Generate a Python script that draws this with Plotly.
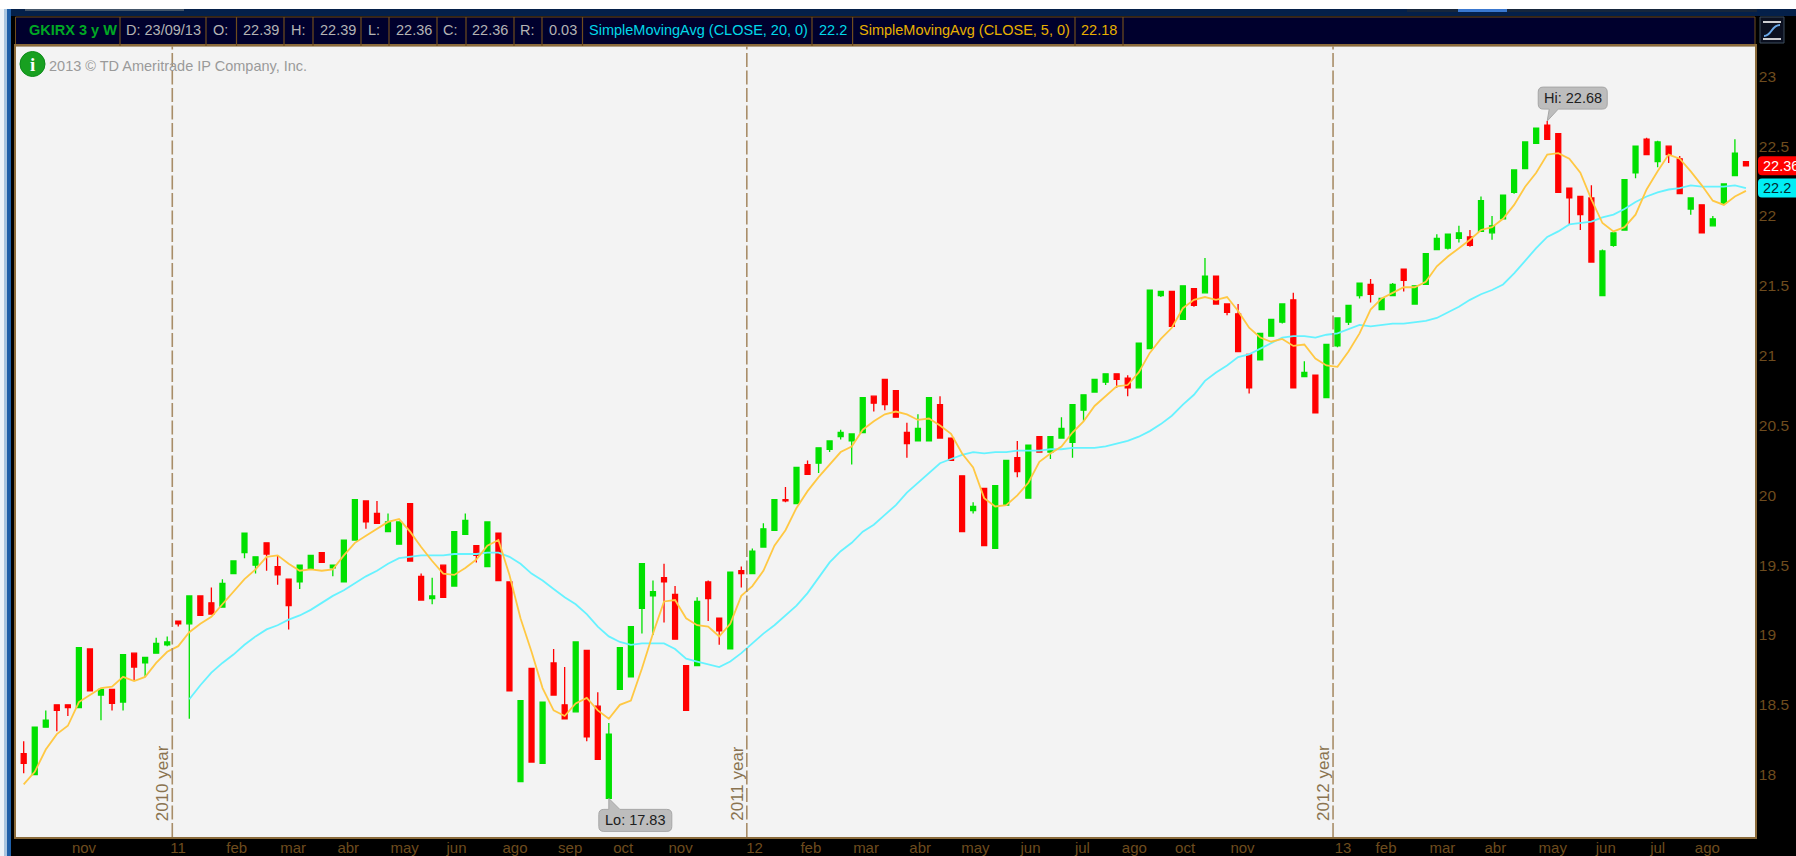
import pandas as pd
import plotly.graph_objects as go

# ---------- data ----------
last_bar = "2013-09-23"
bar_count = 157

opens = [
18.15,18.00,18.34,18.50,18.50,18.48,18.90,18.57,18.61,18.52,
18.87,18.80,18.87,18.93,19.10,19.08,19.28,19.23,19.20,19.44,
19.59,19.50,19.66,19.49,19.40,19.38,19.47,19.59,19.48,19.38,
19.68,19.96,19.87,19.74,19.65,19.94,19.42,19.26,19.50,19.35,
19.72,19.64,19.49,19.73,19.38,17.95,18.76,18.08,18.80,18.50,
18.45,18.89,18.49,17.83,18.61,18.70,19.19,19.28,19.41,19.29,
18.78,18.78,19.38,19.12,18.90,19.46,19.44,19.63,19.75,19.97,
19.94,20.22,20.23,20.33,20.42,20.39,20.45,20.71,20.83,20.75,
20.45,20.39,20.39,20.65,20.41,20.14,19.89,20.05,19.62,19.93,
20.27,19.98,20.42,20.31,20.41,20.38,20.61,20.74,20.81,20.87,
20.84,20.77,21.05,21.43,21.46,21.26,21.48,21.45,21.57,21.37,
21.30,21.01,20.97,21.14,21.24,21.40,20.85,20.86,20.70,21.07,
21.24,21.43,21.51,21.33,21.43,21.62,21.37,21.51,21.76,21.77,
21.84,21.85,21.89,21.88,21.98,22.17,22.34,22.52,22.65,22.59,
22.20,22.14,22.13,21.43,21.79,21.90,22.31,22.55,22.39,22.50,
22.41,22.05,22.08,21.93,22.09,22.29,22.39]

highs = [
18.24,18.34,18.46,18.50,18.50,18.91,18.90,18.61,18.61,18.86,
18.87,18.84,18.98,18.99,19.10,19.28,19.28,19.34,19.40,19.53,
19.73,19.56,19.66,19.57,19.40,19.50,19.57,19.59,19.50,19.68,
19.97,19.96,19.96,19.87,19.81,19.94,19.44,19.41,19.50,19.74,
19.87,19.64,19.81,19.73,19.38,18.53,18.76,18.52,18.90,18.77,
18.95,18.89,18.59,18.37,18.91,19.06,19.51,19.39,19.51,19.35,
18.78,19.27,19.39,19.12,19.45,19.49,19.62,19.80,19.97,20.06,
20.20,20.25,20.34,20.39,20.47,20.44,20.70,20.71,20.83,20.75,
20.52,20.58,20.70,20.71,20.41,20.14,19.95,20.05,20.07,20.25,
20.39,20.36,20.42,20.42,20.56,20.65,20.72,20.83,20.87,20.87,
20.86,21.09,21.47,21.46,21.46,21.50,21.48,21.70,21.57,21.37,
21.37,21.01,21.16,21.26,21.37,21.45,20.96,20.86,21.08,21.27,
21.36,21.52,21.55,21.41,21.52,21.62,21.50,21.73,21.87,21.87,
21.93,21.90,22.14,22.00,22.15,22.33,22.53,22.63,22.68,22.59,
22.20,22.14,22.22,21.76,21.88,22.26,22.50,22.56,22.54,22.50,
22.43,22.13,22.08,22.00,22.23,22.55,22.39]

lows = [
18.01,18.00,18.34,18.31,18.42,18.48,18.60,18.39,18.46,18.46,
18.67,18.70,18.87,18.92,19.06,18.40,19.14,19.15,19.20,19.44,
19.55,19.44,19.46,19.36,19.04,19.33,19.47,19.52,19.42,19.38,
19.68,19.76,19.80,19.74,19.65,19.53,19.25,19.22,19.27,19.35,
19.72,19.52,19.49,19.39,18.60,17.95,18.09,18.08,18.57,18.40,
18.45,18.24,18.11,17.83,18.61,18.70,19.01,19.00,19.09,18.97,
18.46,18.78,19.10,18.93,18.90,19.34,19.44,19.63,19.75,19.95,
19.94,20.15,20.16,20.31,20.40,20.22,20.45,20.60,20.61,20.56,
20.27,20.39,20.39,20.41,20.25,19.74,19.87,19.64,19.62,19.93,
20.13,19.98,20.31,20.26,20.41,20.27,20.53,20.74,20.79,20.77,
20.71,20.77,21.05,21.42,21.21,21.26,21.35,21.45,21.37,21.29,
21.03,20.73,20.97,21.14,21.23,20.77,20.85,20.59,20.70,21.06,
21.22,21.41,21.38,21.33,21.43,21.46,21.37,21.51,21.76,21.76,
21.81,21.78,21.89,21.83,21.98,22.16,22.34,22.52,22.55,22.17,
21.94,21.90,21.67,21.43,21.78,21.90,22.27,22.44,22.35,22.38,
22.16,22.01,21.88,21.93,22.09,22.29,22.36]

closes = [
18.08,18.34,18.39,18.46,18.48,18.91,18.60,18.61,18.51,18.86,
18.77,18.84,18.94,18.95,19.08,19.28,19.14,19.15,19.37,19.53,
19.73,19.56,19.58,19.43,19.21,19.50,19.57,19.52,19.50,19.68,
19.97,19.81,19.80,19.81,19.81,19.53,19.25,19.28,19.27,19.74,
19.82,19.57,19.81,19.39,18.60,18.53,18.09,18.52,18.57,18.40,
18.95,18.27,18.11,18.29,18.91,19.06,19.51,19.31,19.38,18.97,
18.46,19.24,19.26,19.03,19.45,19.44,19.60,19.76,19.97,19.96,
20.20,20.15,20.34,20.39,20.45,20.44,20.70,20.66,20.65,20.56,
20.37,20.48,20.70,20.41,20.25,19.74,19.92,19.64,20.07,20.25,
20.17,20.36,20.31,20.42,20.48,20.65,20.72,20.83,20.87,20.83,
20.77,21.09,21.47,21.46,21.21,21.50,21.36,21.57,21.37,21.31,
21.03,20.77,21.16,21.26,21.37,20.77,20.88,20.59,21.08,21.27,
21.36,21.52,21.44,21.41,21.51,21.54,21.50,21.73,21.84,21.87,
21.88,21.79,22.11,21.93,22.15,22.33,22.53,22.63,22.55,22.17,
22.13,22.01,21.67,21.75,21.88,22.26,22.50,22.44,22.53,22.44,
22.16,22.13,21.88,21.98,22.23,22.45,22.36]

sma5 = [
17.93,18.02,18.18,18.29,18.35,18.52,18.57,18.62,18.63,18.70,
18.67,18.70,18.80,18.88,18.92,19.02,19.08,19.13,19.22,19.31,
19.40,19.47,19.56,19.57,19.51,19.46,19.47,19.46,19.47,19.57,
19.66,19.71,19.76,19.81,19.83,19.74,19.63,19.53,19.44,19.43,
19.48,19.54,19.64,19.68,19.43,19.12,18.88,18.62,18.46,18.42,
18.51,18.55,18.46,18.40,18.50,18.53,18.76,19.01,19.24,19.25,
19.12,19.07,19.06,18.99,19.08,19.28,19.35,19.46,19.64,19.75,
19.91,20.03,20.13,20.22,20.31,20.35,20.47,20.53,20.58,20.60,
20.58,20.54,20.55,20.50,20.44,20.30,20.20,19.98,19.92,19.93,
20.00,20.09,20.24,20.30,20.35,20.45,20.53,20.64,20.71,20.78,
20.79,20.88,21.02,21.12,21.20,21.34,21.40,21.42,21.40,21.42,
21.32,21.20,21.13,21.10,21.12,21.07,21.08,20.98,20.93,20.92,
21.03,21.16,21.33,21.41,21.45,21.49,21.49,21.53,21.64,21.71,
21.77,21.83,21.90,21.92,21.98,22.08,22.21,22.31,22.44,22.45,
22.41,22.31,22.12,21.95,21.89,21.92,22.01,22.19,22.32,22.44,
22.41,22.32,22.22,22.11,22.08,22.14,22.18]

sma20_first_bar = 15
sma20 = [
18.54,18.64,18.73,18.80,18.86,
18.93,18.99,19.04,19.07,19.11,19.14,19.18,19.23,19.28,19.32,
19.37,19.42,19.46,19.51,19.55,19.56,19.57,19.57,19.57,19.58,
19.58,19.58,19.59,19.59,19.56,19.51,19.44,19.39,19.33,19.27,
19.22,19.15,19.06,18.99,18.95,18.93,18.94,18.94,18.94,18.90,
18.83,18.81,18.79,18.77,18.81,18.87,18.94,19.01,19.07,19.14,
19.21,19.30,19.41,19.52,19.60,19.66,19.74,19.79,19.86,19.93,
20.02,20.09,20.16,20.23,20.26,20.29,20.31,20.30,20.31,20.31,
20.32,20.32,20.32,20.33,20.33,20.34,20.34,20.34,20.35,20.37,
20.39,20.42,20.46,20.51,20.57,20.65,20.72,20.82,20.88,20.93,
20.99,21.01,21.05,21.09,21.13,21.14,21.14,21.13,21.15,21.16,
21.19,21.22,21.21,21.22,21.23,21.23,21.24,21.25,21.27,21.31,
21.35,21.40,21.44,21.47,21.51,21.59,21.68,21.77,21.85,21.89,
21.94,21.95,21.96,21.99,22.01,22.05,22.10,22.14,22.17,22.19,
22.20,22.22,22.21,22.21,22.21,22.22,22.20]

month_labels = ["nov","11","feb","mar","abr","may","jun","ago","sep","oct","nov","12",
                "feb","mar","abr","may","jun","jul","ago","oct","nov","13",
                "feb","mar","abr","may","jun","jul","ago"]
month_label_weeks = [5.46,13.98,19.3,24.4,29.4,34.5,39.2,44.5,49.5,54.3,59.5,66.2,
                     71.3,76.3,81.2,86.2,91.2,95.9,100.6,105.2,110.4,119.5,
                     123.4,128.5,133.3,138.5,143.3,148.0,152.5]
year_labels = ["2010 year","2011 year","2012 year"]
year_break_weeks = [13.46,65.5,118.6]
price_ticks = [18,18.5,19,19.5,20,20.5,21,21.5,22,22.5,23]

header_cells = [
    ("GKIRX 3 y W",27,"#00a824",True),("D: 23/09/13",124,"#b4b4b4",False),
    ("O:",210.5,"#b4b4b4",False),("22.39",241,"#b4b4b4",False),
    ("H:",289,"#b4b4b4",False),("22.39",318,"#b4b4b4",False),
    ("L:",365.5,"#b4b4b4",False),("22.36",394,"#b4b4b4",False),
    ("C:",441,"#b4b4b4",False),("22.36",470,"#b4b4b4",False),
    ("R:",518,"#b4b4b4",False),("0.03",546.5,"#b4b4b4",False),
    ("SimpleMovingAvg (CLOSE, 20, 0)",586.7,"#00d8e8",False),("22.2",817,"#00d8e8",False),
    ("SimpleMovingAvg (CLOSE, 5, 0)",857,"#e8b000",False),("22.18",1079,"#e8b000",False),
]
header_separators = [120,206,236.5,284,313,361,389,437,466,514,542,582.5,812,852.6,1075,1123]

# ---------- frame geometry ----------
W, H = 1796, 856
L, R, T, B = 16, 1755, 46, 837
def px(x): return (x - L) / (R - L)
def py(y): return (B - y) / (B - T)

dates = pd.date_range(end=last_bar, periods=bar_count, freq="7D")
def week_date(w): return dates[0] + pd.Timedelta(days=7 * w)

SANS = "Liberation Sans"
BROWN = "#6e4c1e"
TAN = "#a88d68"

fig = go.Figure()
fig.add_trace(go.Candlestick(
    x=dates, open=opens, high=highs, low=lows, close=closes,
    increasing=dict(line=dict(color="#00e000", width=1.3), fillcolor="#00e000"),
    decreasing=dict(line=dict(color="#ff0000", width=1.3), fillcolor="#ff0000"),
    whiskerwidth=0, hoverinfo="skip", showlegend=False))
fig.add_trace(go.Scatter(x=dates[sma20_first_bar:], y=sma20, mode="lines",
                         line=dict(color="#66f2ff", width=1.8), hoverinfo="skip", showlegend=False))
fig.add_trace(go.Scatter(x=dates, y=sma5, mode="lines",
                         line=dict(color="#ffc843", width=1.8), hoverinfo="skip", showlegend=False))

shapes, notes = [], []

def rect(x0, y0, x1, y1, fill, line=None):
    shapes.append(dict(type="rect", xref="paper", yref="paper", x0=px(x0), x1=px(x1), y0=py(y0), y1=py(y1),
                       fillcolor=fill, line=dict(width=1 if line else 0, color=line or fill), layer="below"))

# window chrome
rect(0, 0, 4, H, "#eef3f8")
rect(4, 0, 7, H, "#a9c5e0")
rect(7, 0, 11, H, "#1f5fa8")
rect(0, 0, W, 9, "#ffffff")
rect(11, 9, W, 16, "#04204a")
rect(25, 9, 184, 11, "#44566a")
rect(1407, 9, 1757, 12, "#16263c")
rect(1458, 9, 1507, 12, "#3a78d0")
rect(15.5, 17, R, T, "#00002d", BROWN)
for sx in header_separators:
    shapes.append(dict(type="line", xref="paper", yref="paper", x0=px(sx), x1=px(sx), y0=py(17), y1=py(T),
                       line=dict(color=BROWN, width=1.2)))

for text, x0, colour, bold in header_cells:
    notes.append(dict(text=f"<b>{text}</b>" if bold else text, xref="paper", yref="paper", x=px(x0), y=py(29.8),
                      xanchor="left", yanchor="middle", showarrow=False, align="left",
                      font=dict(family=SANS, size=14.5, color=colour)))

# strategy icon, top right
rect(1760, 17, 1784, 43, "#0b1020", "#3c4c5c")
for yy in (22, 39):
    shapes.append(dict(type="line", xref="paper", yref="paper", x0=px(1763), x1=px(1781), y0=py(yy), y1=py(yy),
                       line=dict(color="#ffffff", width=1.6)))
shapes.append(dict(type="path", xref="paper", yref="paper",
                   path=f"M {px(1764)} {py(36)} C {px(1772)} {py(36)} {px(1771)} {py(25)} {px(1780)} {py(25)}",
                   line=dict(color="#6aa8e8", width=2)))

# information icon and copyright
shapes.append(dict(type="circle", xref="paper", yref="paper", x0=px(20), x1=px(45), y0=py(51.5), y1=py(76.5),
                   fillcolor="#18a020", line=dict(color="#0c8a18", width=1)))
notes.append(dict(text="<b>i</b>", xref="paper", yref="paper", x=px(32.5), y=py(64), showarrow=False,
                  xanchor="center", yanchor="middle", font=dict(family="Liberation Serif", size=19, color="#ffffff")))
notes.append(dict(text="2013 © TD Ameritrade IP Company, Inc.", xref="paper", yref="paper", x=px(47), y=py(66),
                  xanchor="left", yanchor="middle", showarrow=False,
                  font=dict(family=SANS, size=14.5, color="#9a9a9a")))

# year separators
for label, w in zip(year_labels, year_break_weeks):
    d = week_date(w)
    shapes.append(dict(type="line", xref="x", yref="paper", x0=d, x1=d, y0=0, y1=1,
                       line=dict(color=TAN, width=1.6, dash="14px,3.5px"), layer="above"))
    notes.append(dict(text=label, x=d, xref="x", yref="paper", y=py(783), textangle=-90, showarrow=False,
                      xanchor="center", yanchor="middle", xshift=-10,
                      font=dict(family=SANS, size=17, color="#8a7350")))

def rounded(x0, x1, y0, y1, r=5, tail=None):
    """Pixel path; y grows upward. tail is (base_a, base_b) along the edge nearest the anchor."""
    top, bot = max(y0, y1), min(y0, y1)
    p = [f"M {x0+r} {bot}"]
    if tail and bot > 0:
        p += [f"L {tail[0]} {bot}", "L 0 0", f"L {tail[1]} {bot}"]
    p += [f"L {x1-r} {bot}", f"Q {x1} {bot} {x1} {bot+r}", f"L {x1} {top-r}", f"Q {x1} {top} {x1-r} {top}"]
    if tail and top < 0:
        p += [f"L {tail[1]} {top}", "L 0 0", f"L {tail[0]} {top}"]
    p += [f"L {x0+r} {top}", f"Q {x0} {top} {x0} {top-r}", f"L {x0} {bot+r}", f"Q {x0} {bot} {x0+r} {bot}", "Z"]
    return " ".join(p)

# Hi / Lo callouts, anchored on the extreme bars
hi_i = highs.index(max(highs))
lo_i = lows.index(min(lows))
for i, val, text, path, xs, ys in [
    (hi_i, highs[hi_i], "Hi: 22.68", rounded(-9, 60, 12, 34, tail=(2, 11)), 25.5, 23),
    (lo_i, lows[lo_i], "Lo: 17.83", rounded(-10, 63, -11, -33, tail=(0, 11)), 26.5, -22),
]:
    shapes.append(dict(type="path", xref="x", yref="y", xsizemode="pixel", ysizemode="pixel",
                       xanchor=dates[i], yanchor=val, path=path, fillcolor="#bdbdbd",
                       line=dict(color="#a6a6a6", width=1), layer="above"))
    notes.append(dict(text=text, x=dates[i], y=val, xref="x", yref="y", xshift=xs, yshift=ys, showarrow=False,
                      xanchor="center", yanchor="middle", font=dict(family=SANS, size=14.5, color="#202020")))

# price tags on the right axis
for val, text, fill, colour in [(closes[-1], "22.36", "#ff0000", "#ffffff"), (sma20[-1], "22.2", "#00eef5", "#002a30")]:
    shapes.append(dict(type="path", xref="paper", yref="y", xsizemode="pixel", ysizemode="pixel",
                       xanchor=1, yanchor=val, path=rounded(3, 60, -9.5, 9.5, r=4), fillcolor=fill,
                       line=dict(width=0), layer="above"))
    notes.append(dict(text=text, x=px(1760.5), y=val, xref="paper", yref="y", showarrow=False, xanchor="left",
                      yanchor="middle", font=dict(family=SANS, size=14.5, color=colour)))

fig.update_layout(
    width=W, height=H, margin=dict(l=L, r=W - R, t=T, b=H - B, pad=0, autoexpand=False),
    paper_bgcolor="#000000", plot_bgcolor="#f3f3f3",
    showlegend=False, hovermode=False, boxgap=0.36, shapes=shapes, annotations=notes,
    xaxis=dict(type="date", rangeslider=dict(visible=False),
               range=[week_date(-0.697), week_date(156.82)],
               tickmode="array", tickvals=[week_date(w) for w in month_label_weeks], ticktext=month_labels,
               tickangle=0, ticks="", ticklen=0, ticklabelstandoff=-4, showgrid=False, zeroline=False,
               showline=True, linecolor="#8a6a3a", linewidth=1.5, mirror=True,
               tickfont=dict(family=SANS, size=15, color=BROWN)),
    yaxis=dict(side="right", range=[17.5535, 23.2176], tickmode="array", tickvals=price_ticks,
               ticktext=[f"{v:g}" for v in price_ticks], ticks="", ticklen=0, ticklabelstandoff=-1,
               showgrid=False, zeroline=False, showline=True, linecolor="#8a6a3a", linewidth=1.5, mirror=True,
               tickfont=dict(family=SANS, size=15.5, color=BROWN)),
)

fig.write_html("out.html", config={"displayModeBar": False},
               post_script="document.body.style.margin='0';document.body.style.overflow='hidden';document.documentElement.style.overflow='hidden';")
